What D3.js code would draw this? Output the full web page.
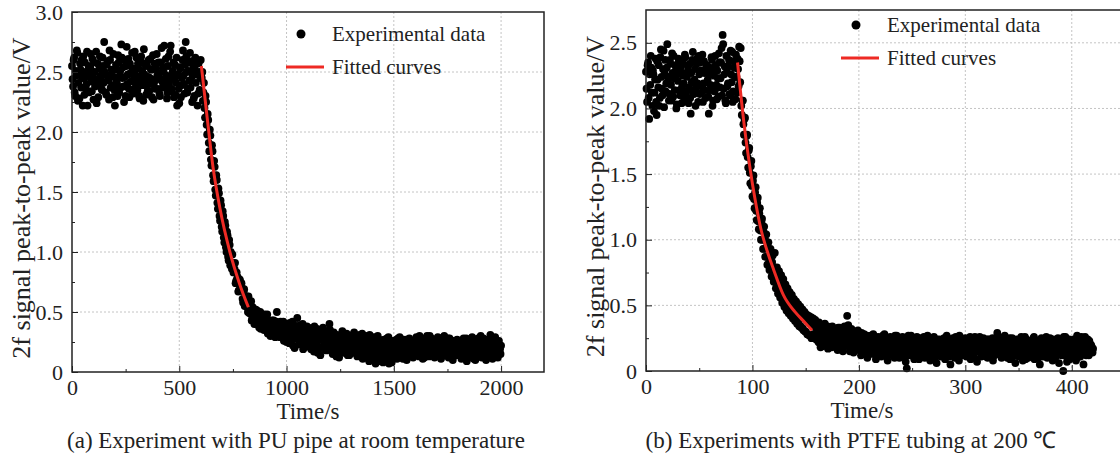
<!DOCTYPE html>
<html>
<head>
<meta charset="utf-8">
<script src="https://cdn.jsdelivr.net/npm/d3@7"></script>
<style>
  body { margin: 0; background: #fff; }
  svg { display: block; font-family: "Liberation Serif", "Times New Roman", serif; }
  .grid line { stroke: #c4c4c4; stroke-dasharray: 2,2; stroke-width: 1; }
  .axis path, .axis line { stroke: #222; }
  .axis text { font-size: 22px; fill: #222; font-family: "Liberation Serif", serif; }
</style>
</head>
<body>
<svg id="chart" width="1120" height="462"></svg>
<script>
// ---- panel (a): PU pipe, room temperature, two interleaved reads every 5 s ----
const timeStepA = 5;
const plateauA = [ // t = 0 .. 600
  2.55,2.38,2.62,2.30,2.47,2.66,2.41,2.28,2.52,2.60,
  2.22,2.45,2.58,2.36,2.67,2.49,2.33,2.54,2.42,2.61,
  2.27,2.50,2.44,2.24,2.57,2.39,2.63,2.46,2.35,2.55,
  2.75,2.48,2.31,2.59,2.43,2.68,2.37,2.52,2.29,2.46,
  2.22,2.56,2.40,2.64,2.33,2.51,2.73,2.45,2.38,2.60,
  2.30,2.71,2.48,2.36,2.57,2.42,2.66,2.32,2.50,2.44,
  2.62,2.35,2.53,2.28,2.47,2.58,2.39,2.69,2.43,2.31,
  2.55,2.46,2.34,2.61,2.40,2.52,2.27,2.57,2.44,2.65,
  2.36,2.49,2.30,2.58,2.42,2.54,2.72,2.38,2.47,2.33,
  2.63,2.45,2.72,2.36,2.51,2.29,2.56,2.41,2.22,2.48,
  2.24,2.53,2.39,2.60,2.47,2.32,2.75,2.50,2.36,2.58,
  2.66,2.43,2.25,2.55,2.30,2.62,2.48,2.22,2.57,2.35,
  2.60
];
const plateauA2 = [ // t = 2.5 .. 597.5
  2.44,2.60,2.33,2.51,2.68,2.26,2.48,2.57,2.37,2.45,
  2.63,2.31,2.50,2.40,2.22,2.55,2.46,2.65,2.34,2.49,
  2.58,2.38,2.67,2.43,2.29,2.53,2.47,2.36,2.62,2.41,
  2.50,2.33,2.56,2.44,2.27,2.60,2.48,2.39,2.65,2.35,
  2.52,2.43,2.30,2.58,2.47,2.37,2.62,2.54,2.25,2.46,
  2.55,2.40,2.61,2.29,2.49,2.35,2.53,2.44,2.67,2.38,
  2.46,2.57,2.30,2.42,2.63,2.51,2.26,2.48,2.56,2.39,
  2.34,2.60,2.45,2.52,2.29,2.64,2.41,2.36,2.53,2.47,
  2.58,2.32,2.44,2.70,2.37,2.50,2.43,2.61,2.28,2.55,
  2.40,2.67,2.34,2.49,2.58,2.44,2.31,2.62,2.47,2.36,
  2.54,2.29,2.45,2.68,2.40,2.56,2.63,2.33,2.51,2.43,
  2.37,2.59,2.47,2.28,2.52,2.41,2.57,2.32,2.50,2.45
];
const dropA = [ // t = 605 .. 1000
  2.45,2.26,2.41,2.12,2.25,1.98,2.10,1.84,1.97,1.72,
  1.84,1.59,1.71,1.47,1.60,1.36,1.49,1.26,1.39,1.17,
  1.30,1.08,1.22,1.00,1.14,0.93,1.06,1.00,0.86,0.91,
  0.84,0.91,0.76,0.78,0.67,0.77,0.70,0.74,0.61,0.67,
  0.55,0.61,0.63,0.50,0.57,0.51,0.59,0.46,0.49,0.40,
  0.51,0.45,0.51,0.39,0.47,0.36,0.43,0.47,0.35,0.43,
  0.38,0.48,0.35,0.39,0.30,0.42,0.36,0.43,0.31,0.39,
  0.50,0.36,0.40,0.29,0.36,0.32,0.42,0.30,0.33,0.25
];
const dropA2 = [ // t = 607.5 .. 997.5
  2.50,2.33,2.20,2.30,2.06,2.15,1.91,2.02,1.77,1.89,
  1.64,1.76,1.52,1.64,1.41,1.53,1.30,1.43,1.21,1.34,
  1.12,1.25,1.04,1.17,0.96,1.10,0.89,0.90,0.98,0.83,
  0.86,0.74,0.83,0.79,0.68,0.77,0.68,0.70,0.58,0.69,
  0.61,0.55,0.54,0.63,0.49,0.53,0.43,0.54,0.50,0.42,
  0.52,0.44,0.48,0.37,0.50,0.43,0.38,0.39,0.48,0.36,
  0.41,0.32,0.43,0.41,0.32,0.43,0.35,0.40,0.29,0.42,
  0.36,0.31,0.32,0.42,0.29,0.35,0.26,0.38,0.35
];
const tailA = [ // t = 1005 .. 2000
  0.33,0.26,0.41,0.30,0.36,0.22,0.39,0.28,0.34,0.45,0.27,0.37,0.31,0.24,0.40,0.29,0.35,0.21,0.38,0.30,
  0.26,0.36,0.19,0.33,0.28,0.38,0.23,0.31,0.16,0.35,0.27,0.32,0.20,0.37,0.25,0.30,0.18,0.34,0.26,0.40,
  0.22,0.29,0.15,0.33,0.24,0.19,0.31,0.26,0.12,0.28,0.21,0.34,0.17,0.27,0.23,0.32,0.14,0.25,0.30,0.20,
  0.27,0.16,0.33,0.22,0.29,0.13,0.25,0.31,0.18,0.24,0.11,0.28,0.21,0.30,0.15,0.26,0.09,0.23,0.19,0.28,
  0.12,0.25,0.07,0.21,0.30,0.16,0.09,0.24,0.19,0.08,0.27,0.14,0.22,0.10,0.29,0.17,0.23,0.08,0.20,0.26,
  0.15,0.22,0.11,0.28,0.18,0.24,0.13,0.21,0.27,0.16,0.23,0.10,0.25,0.19,0.14,0.26,0.20,0.12,0.24,0.18,
  0.29,0.14,0.22,0.30,0.17,0.25,0.11,0.21,0.27,0.15,0.30,0.19,0.13,0.24,0.28,0.16,0.22,0.12,0.26,0.20,
  0.29,0.15,0.23,0.11,0.27,0.18,0.30,0.14,0.21,0.25,0.12,0.28,0.17,0.23,0.10,0.26,0.19,0.14,0.27,0.21,
  0.16,0.25,0.11,0.22,0.28,0.15,0.20,0.09,0.26,0.18,0.23,0.13,0.29,0.17,0.21,0.10,0.27,0.19,0.14,0.24,
  0.30,0.12,0.22,0.16,0.27,0.10,0.20,0.25,0.14,0.31,0.18,0.11,0.23,0.28,0.15,0.21,0.12,0.26,0.19,0.22
];
const tailA2 = [ // t = 1002.5 .. 1997.5
  0.29,0.38,0.24,0.34,0.27,0.42,0.31,0.20,0.36,0.28,0.33,0.23,0.39,0.26,0.30,0.19,0.35,0.27,0.32,0.24,
  0.37,0.22,0.30,0.26,0.34,0.17,0.29,0.24,0.36,0.21,0.31,0.14,0.27,0.33,0.22,0.28,0.19,0.32,0.23,0.29,
  0.35,0.18,0.26,0.31,0.20,0.27,0.13,0.24,0.30,0.17,0.25,0.22,0.32,0.16,0.29,0.19,0.26,0.21,0.14,0.27,
  0.20,0.31,0.17,0.25,0.22,0.28,0.18,0.14,0.27,0.21,0.32,0.16,0.24,0.19,0.29,0.13,0.26,0.31,0.17,0.22,
  0.18,0.29,0.14,0.10,0.24,0.20,0.27,0.13,0.22,0.17,0.11,0.25,0.19,0.28,0.15,0.07,0.21,0.26,0.13,0.18,
  0.23,0.13,0.27,0.19,0.15,0.29,0.20,0.17,0.11,0.24,0.18,0.27,0.15,0.21,0.28,0.13,0.17,0.23,0.19,0.14,
  0.22,0.26,0.17,0.13,0.24,0.19,0.28,0.16,0.12,0.23,0.20,0.25,0.16,0.30,0.18,0.22,0.14,0.27,0.17,0.23,
  0.19,0.24,0.17,0.28,0.13,0.22,0.16,0.25,0.19,0.14,0.28,0.20,0.15,0.26,0.21,0.13,0.24,0.17,0.22,0.16,
  0.26,0.14,0.20,0.17,0.24,0.12,0.21,0.28,0.16,0.12,0.27,0.20,0.15,0.25,0.11,0.19,0.23,0.16,0.28,0.13,
  0.17,0.25,0.15,0.28,0.20,0.14,0.26,0.18,0.22,0.13,0.27,0.21,0.16,0.19,0.29,0.13,0.24,0.17,0.21,0.15
];
const fitA = [[603,2.55],[630,2.12],[657,1.71],[690,1.36],[736,1.00],[780,0.74],[822,0.54]];

// ---- panel (b): PTFE tubing at 200 °C, two interleaved reads every 1 s ----
const timeStepB = 1;
const plateauB = [ // t = 0 .. 87
  2.28,2.05,2.35,1.92,2.18,2.31,2.02,2.26,2.12,2.38,
  1.95,2.22,2.33,2.08,2.45,2.15,2.30,2.01,2.37,2.19,
  2.49,2.24,2.11,2.34,2.06,2.27,2.40,2.14,2.29,2.03,
  2.21,2.36,2.10,2.32,2.17,2.25,2.07,2.39,2.13,2.28,
  2.04,2.34,1.96,2.20,2.43,2.11,2.30,2.16,2.38,2.05,
  2.26,2.35,2.12,2.41,2.19,2.27,2.08,2.33,2.22,1.96,
  2.31,2.14,2.37,2.06,2.25,2.40,2.18,2.29,2.09,2.35,
  2.23,2.46,2.56,2.15,2.32,2.04,2.28,2.19,2.37,2.10,
  2.26,2.43,2.13,2.31,2.07,2.24,2.38,2.17
];
const plateauB2 = [ // t = 0.5 .. 87.5
  2.15,2.33,2.08,2.26,2.40,2.12,2.29,1.98,2.22,2.05,
  2.36,2.16,2.02,2.39,2.24,2.10,2.44,2.27,2.13,2.31,
  2.20,2.06,2.37,2.18,2.42,2.09,2.23,2.33,2.00,2.26,
  2.38,2.14,2.28,2.04,2.35,2.19,2.41,2.12,2.24,2.32,
  2.16,2.08,2.27,2.37,2.13,2.22,2.02,2.34,2.19,2.40,
  2.11,2.29,2.17,2.05,2.36,2.14,2.31,2.20,2.09,2.26,
  2.18,2.39,2.02,2.28,2.13,2.33,2.07,2.23,2.42,2.16,
  2.35,2.10,2.49,2.26,2.06,2.40,2.17,2.32,2.11,2.44,
  2.20,2.05,2.36,2.24,2.41,2.12,2.30,2.47
];
const dropB = [ // t = 88 .. 160
  2.36,2.46,1.95,2.06,1.80,1.93,1.66,1.80,1.55,1.70,
  1.43,1.60,1.33,1.49,1.24,1.40,1.15,1.32,1.08,1.24,
  1.00,1.16,0.93,1.10,0.87,1.04,0.81,0.98,0.77,0.93,
  0.72,0.88,0.68,0.90,0.63,0.79,0.59,0.76,0.56,0.73,
  0.52,0.70,0.49,0.66,0.46,0.63,0.44,0.60,0.42,0.58,
  0.40,0.55,0.38,0.53,0.36,0.51,0.34,0.49,0.33,0.47,
  0.31,0.45,0.30,0.43,0.28,0.42,0.27,0.41,0.26,0.40,
  0.25,0.39,0.24
];
const dropB2 = [ // t = 88.5 .. 159.5
  2.20,2.02,2.06,1.88,1.92,1.74,1.79,1.63,1.68,1.51,
  1.56,1.41,1.45,1.31,1.36,1.22,1.28,1.14,1.20,1.07,
  1.13,1.00,1.06,0.93,0.99,0.87,0.94,0.82,0.88,0.77,
  0.83,0.72,0.79,0.68,0.75,0.64,0.71,0.61,0.67,0.57,
  0.64,0.54,0.60,0.51,0.58,0.48,0.55,0.46,0.53,0.43,
  0.51,0.41,0.48,0.39,0.46,0.36,0.44,0.34,0.43,0.32,
  0.41,0.30,0.39,0.28,0.37,0.27,0.36,0.25,0.34,0.28,
  0.37,0.25
];
const tailB = [ // t = 161 .. 420
  0.35,0.22,0.30,0.18,0.33,0.26,0.20,0.36,0.24,0.29,0.17,0.32,0.25,0.21,0.34,0.19,0.28,0.23,0.31,0.16,
  0.27,0.33,0.20,0.25,0.15,0.30,0.22,0.28,0.42,0.35,0.18,0.26,0.32,0.21,0.14,0.29,0.24,0.17,0.31,0.20,
  0.26,0.12,0.23,0.19,0.28,0.14,0.22,0.10,0.25,0.18,0.27,0.13,0.21,0.16,0.24,0.09,0.20,0.26,0.15,0.22,
  0.11,0.24,0.18,0.28,0.14,0.21,0.08,0.19,0.25,0.16,0.23,0.12,0.20,0.27,0.13,0.18,0.24,0.10,0.22,0.17,
  0.26,0.14,0.20,0.07,0.02,0.18,0.23,0.12,0.27,0.16,0.21,0.09,0.25,0.15,0.19,0.11,0.24,0.17,0.13,0.22,
  0.26,0.10,0.18,0.23,0.14,0.20,0.08,0.25,0.16,0.12,0.22,0.18,0.06,0.21,0.15,0.24,0.11,0.19,0.13,0.25,
  0.09,0.17,0.22,0.12,0.19,0.05,0.24,0.15,0.20,0.10,0.26,0.14,0.18,0.08,0.23,0.16,0.12,0.21,0.17,0.25,
  0.11,0.19,0.14,0.24,0.09,0.18,0.22,0.13,0.26,0.16,0.07,0.20,0.15,0.23,0.11,0.18,0.25,0.13,0.21,0.16,
  0.10,0.24,0.17,0.12,0.20,0.08,0.22,0.15,0.19,0.29,0.13,0.18,0.24,0.10,0.21,0.16,0.27,0.12,0.19,0.14,
  0.23,0.09,0.18,0.25,0.13,0.20,0.06,0.22,0.16,0.11,0.24,0.15,0.19,0.08,0.21,0.26,0.13,0.17,0.10,0.23,
  0.15,0.20,0.12,0.25,0.09,0.18,0.22,0.14,0.19,0.05,0.24,0.16,0.11,0.21,0.17,0.26,0.10,0.20,0.13,0.23,
  0.18,0.08,0.22,0.15,0.19,0.12,0.25,0.06,0.17,0.21,0.14,0.00,0.20,0.26,0.11,0.18,0.23,0.09,0.16,0.21,
  0.13,0.24,0.19,0.08,0.27,0.15,0.21,0.11,0.26,0.17,0.05,0.22,0.14,0.19,0.24,0.12,0.18,0.20,0.15,0.17
];
const tailB2 = [ // t = 160.5 .. 419.5
  0.30,0.25,0.37,0.21,0.28,0.33,0.19,0.27,0.31,0.23,0.34,0.20,0.29,0.26,0.18,0.32,0.24,0.30,0.21,0.27,
  0.33,0.17,0.26,0.30,0.22,0.19,0.34,0.25,0.29,0.33,0.23,0.15,0.27,0.31,0.24,0.20,0.28,0.16,0.25,0.30,
  0.18,0.24,0.29,0.15,0.21,0.26,0.17,0.27,0.13,0.23,0.19,0.25,0.16,0.28,0.14,0.22,0.18,0.13,0.25,0.19,
  0.23,0.15,0.27,0.12,0.20,0.25,0.17,0.23,0.13,0.26,0.19,0.15,0.24,0.10,0.21,0.27,0.16,0.22,0.14,0.25,
  0.19,0.23,0.11,0.24,0.16,0.12,0.27,0.20,0.14,0.25,0.18,0.22,0.13,0.20,0.26,0.17,0.09,0.21,0.25,0.15,
  0.20,0.24,0.13,0.19,0.27,0.11,0.22,0.17,0.23,0.14,0.26,0.10,0.19,0.24,0.17,0.13,0.23,0.21,0.16,0.12,
  0.22,0.19,0.27,0.15,0.11,0.23,0.18,0.12,0.25,0.21,0.16,0.19,0.23,0.12,0.27,0.20,0.17,0.14,0.24,0.19,
  0.16,0.23,0.20,0.12,0.26,0.14,0.18,0.21,0.10,0.22,0.24,0.15,0.19,0.26,0.16,0.23,0.12,0.20,0.17,0.11,
  0.24,0.18,0.13,0.22,0.16,0.25,0.19,0.12,0.23,0.14,0.20,0.26,0.17,0.21,0.13,0.24,0.18,0.22,0.15,0.10,
  0.18,0.25,0.14,0.20,0.11,0.23,0.17,0.19,0.24,0.14,0.21,0.16,0.26,0.12,0.18,0.22,0.09,0.24,0.17,0.20,
  0.12,0.22,0.18,0.14,0.26,0.17,0.20,0.23,0.10,0.19,0.15,0.25,0.21,0.13,0.18,0.23,0.16,0.21,0.11,0.25,
  0.20,0.14,0.24,0.17,0.10,0.22,0.18,0.15,0.23,0.20,0.12,0.17,0.26,0.14,0.21,0.07,0.19,0.24,0.13,0.22,
  0.17,0.12,0.23,0.20,0.15,0.25,0.11,0.19,0.23,0.14,0.21,0.16,0.26,0.12,0.20,0.17,0.23,0.15,0.19,0.14
];
const fitB = [[86,2.35],[92,1.89],[98,1.53],[102,1.33],[108,1.08],[114,0.91],[120,0.77],[129,0.58],[140,0.45],[148,0.38],[156,0.31]];

const xTicksA = [0, 500, 1000, 1500, 2000];
const yTicksA = [0, 0.5, 1.0, 1.5, 2.0, 2.5, 3.0];
const xTicksB = [0, 100, 200, 300, 400];
const yTicksB = [0, 0.5, 1.0, 1.5, 2.0, 2.5];

const legendLabels = ['Experimental data', 'Fitted curves'];
const yTitle = '2f signal peak-to-peak value/V';
const xTitle = 'Time/s';
const captions = ['(a) Experiment with PU pipe at room temperature', '(b) Experiments with PTFE tubing at 200 \u2103'];

// join sample segments onto their time axis
function toPoints(segments, step) {
  const pts = [];
  segments.forEach(seg => {
    seg.values.forEach((v, i) => pts.push([seg.start + i * step, v]));
  });
  return pts;
}

const dataA = toPoints([
  {start: 0, values: plateauA},
  {start: 2.5, values: plateauA2},
  {start: 605, values: dropA},
  {start: 607.5, values: dropA2},
  {start: 1005, values: tailA},
  {start: 1002.5, values: tailA2}
], timeStepA);
const dataB = toPoints([
  {start: 0, values: plateauB},
  {start: 0.5, values: plateauB2},
  {start: 88, values: dropB},
  {start: 88.5, values: dropB2},
  {start: 161, values: tailB},
  {start: 160.5, values: tailB2}
], timeStepB);

const svg = d3.select('#chart');
const serif = '"Liberation Serif", "Times New Roman", serif';
const fmt = d => d === 0 ? '0' : d.toFixed(1);

function drawPanel(p) {
  const x = d3.scaleLinear().domain(p.xDomain).range([p.left, p.right]);
  const y = d3.scaleLinear().domain(p.yDomain).range([p.bottom, p.top]);
  const g = svg.append('g');

  // dotted grid
  g.append('g').attr('class', 'grid')
    .selectAll('line').data(p.xTicks.filter(d => d > 0)).enter().append('line')
    .attr('x1', d => x(d)).attr('x2', d => x(d))
    .attr('y1', p.top).attr('y2', p.bottom);
  g.append('g').attr('class', 'grid')
    .selectAll('line').data(p.yTicks.filter(d => d > 0 && y(d) > p.top + 2)).enter().append('line')
    .attr('x1', p.left).attr('x2', p.right)
    .attr('y1', d => y(d)).attr('y2', d => y(d));

  // scatter
  g.append('g').selectAll('circle').data(p.data).enter().append('circle')
    .attr('cx', d => x(d[0])).attr('cy', d => y(d[1]))
    .attr('r', 3.9).attr('fill', '#000');

  // fitted curve
  g.append('path').datum(p.fit)
    .attr('fill', 'none').attr('stroke', '#ee2a24').attr('stroke-width', 3)
    .attr('d', d3.line().x(d => x(d[0])).y(d => y(d[1])).curve(d3.curveMonotoneX));

  // minor ticks halfway between majors
  const xStep = p.xTicks[1] - p.xTicks[0];
  const yStep = p.yTicks[1] - p.yTicks[0];
  const xMinor = d3.range(xStep / 2, p.xDomain[1], xStep);
  const yMinor = d3.range(yStep / 2, p.yDomain[1], yStep);

  g.append('g').attr('class', 'axis')
    .attr('transform', `translate(0,${p.bottom})`)
    .call(d3.axisBottom(x).tickValues(xMinor).tickSize(-3).tickFormat(''))
    .call(a => a.select('.domain').remove());
  g.append('g').attr('class', 'axis')
    .attr('transform', `translate(${p.left},0)`)
    .call(d3.axisLeft(y).tickValues(yMinor).tickSize(-3).tickFormat(''))
    .call(a => a.select('.domain').remove());

  g.append('g').attr('class', 'axis')
    .attr('transform', `translate(0,${p.bottom})`)
    .call(d3.axisBottom(x).tickValues(p.xTicks).tickSize(-6).tickPadding(7).tickFormat(d => d))
    .attr('font-family', serif)
    .call(a => a.select('.domain').remove());
  g.append('g').attr('class', 'axis')
    .attr('transform', `translate(${p.left},0)`)
    .call(d3.axisLeft(y).tickValues(p.yTicks).tickSize(-6).tickPadding(9).tickFormat(fmt))
    .attr('font-family', serif)
    .call(a => a.select('.domain').remove());

  // frame
  g.append('rect')
    .attr('x', p.left).attr('y', p.top)
    .attr('width', p.right - p.left).attr('height', p.bottom - p.top)
    .attr('fill', 'none').attr('stroke', '#222').attr('stroke-width', 1.5);

  // titles
  g.append('text')
    .attr('x', p.titleX).attr('y', p.bottom + 47)
    .attr('text-anchor', 'middle').attr('font-size', 23).attr('fill', '#222')
    .attr('font-family', serif)
    .text(xTitle);
  g.append('text')
    .attr('transform', `translate(${p.left - 42},${(p.top + p.bottom) / 2 + 6}) rotate(-90)`)
    .attr('text-anchor', 'middle').attr('font-size', 26).attr('fill', '#222')
    .attr('font-family', serif)
    .text(yTitle);
  g.append('text')
    .attr('x', p.captionX).attr('y', 448)
    .attr('text-anchor', 'middle').attr('font-size', 23).attr('fill', '#222')
    .attr('font-family', serif)
    .text(p.caption);

  // legend
  const lg = g.append('g').attr('transform', `translate(${p.legendX},${p.legendY})`)
    .attr('font-family', serif);
  lg.append('circle').attr('cx', -31).attr('cy', 0).attr('r', 4.5).attr('fill', '#000');
  lg.append('text').attr('x', 0).attr('y', 0).attr('dy', '0.35em')
    .attr('font-size', 21).attr('fill', '#222').text(legendLabels[0]);
  lg.append('line').attr('x1', -46).attr('x2', -8).attr('y1', 33).attr('y2', 33)
    .attr('stroke', '#ee2a24').attr('stroke-width', 3);
  lg.append('text').attr('x', 0).attr('y', 33).attr('dy', '0.35em')
    .attr('font-size', 21).attr('fill', '#222').text(legendLabels[1]);
}

drawPanel({
  data: dataA, fit: fitA,
  xDomain: [0, 2200], yDomain: [0, 3],
  left: 72, right: 544, top: 12, bottom: 372,
  xTicks: xTicksA, yTicks: yTicksA,
  legendX: 332, legendY: 34,
  titleX: 308, caption: captions[0], captionX: 296
});
drawPanel({
  data: dataB, fit: fitB,
  xDomain: [0, 450], yDomain: [0, 2.75],
  left: 646, right: 1125, top: 10, bottom: 371,
  xTicks: xTicksB, yTicks: yTicksB,
  legendX: 887, legendY: 25,
  titleX: 862, caption: captions[1], captionX: 851
});
</script>
</body>
</html>
